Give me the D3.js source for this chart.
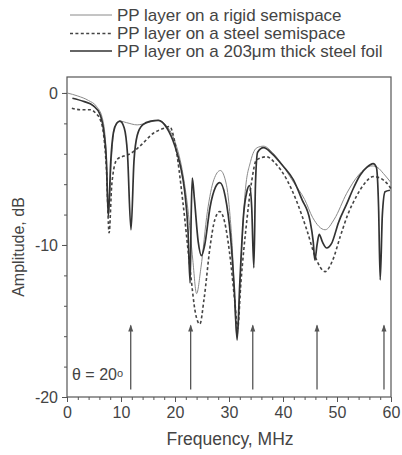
<!DOCTYPE html>
<html>
<head>
<meta charset="utf-8">
<script src="https://cdn.jsdelivr.net/npm/d3@7"></script>
<style>
  body { margin: 0; background: #fff; }
  text { font-family: "Liberation Sans", Arial, sans-serif; fill: #444; }
</style>
</head>
<body>
<div id="chart"></div>
<script>
// Data (frequency in MHz, amplitude in dB)
var rigidX = [0, 2, 4, 5.5, 6.5, 7.2, 7.7, 8.2, 8.8, 9.8, 11, 13, 15, 16.9, 18.5, 20, 21.5, 22.5, 23.3, 24.0, 24.8, 26, 27.2, 28.4, 29.5, 30.5, 31.5, 32.3, 33, 34, 35.2, 36.4, 38, 40, 42, 44, 45.5, 47.8, 49.5, 51.8, 54, 56.5, 57.5, 58.6, 60];
var rigidY = [0, -0.2, -0.5, -0.9, -1.6, -3.5, -8.0, -4.5, -2.3, -1.85, -1.95, -2.1, -1.95, -1.8, -2.2, -3.2, -5.4, -8.0, -11.0, -13.2, -11.5, -7.8, -5.7, -5.1, -6.0, -9.5, -16.0, -10.5, -6.5, -4.5, -3.6, -3.5, -3.9, -4.8, -5.9, -7.0, -8.2, -9.0, -8.3, -6.6, -5.4, -4.8, -4.9, -5.3, -5.9];

var steelX = [0.9, 2.5, 4.3, 5.5, 6.1, 6.8, 7.3, 7.8, 8.3, 9.2, 10.5, 11.7, 13.5, 16, 18.1, 19, 20, 21.5, 22.8, 23.8, 24.6, 25.4, 26.5, 27.4, 28.3, 29.2, 30.1, 31.1, 31.6, 32.2, 33.3, 34.2, 35.1, 37, 38.5, 40.7, 42.5, 44.4, 46, 47.8, 49.2, 50.6, 52, 53.6, 55, 56.7, 58, 59.5, 60];
var steelY = [-1.0, -1.1, -1.1, -1.4, -1.7, -2.8, -5.0, -9.2, -6.0, -4.4, -4.15, -4.0, -3.5, -2.65, -2.3, -2.2, -3.3, -7.3, -11.6, -14.5, -15.2, -13.5, -10.1, -8.3, -7.8, -8.5, -10.5, -13.8, -15.5, -12.5, -8.4, -5.8, -4.4, -4.2, -4.6, -5.7, -7.1, -9.0, -10.8, -11.75, -11.0, -9.45, -8.0, -6.8, -6.0, -5.5, -5.6, -6.05, -6.3];

var foilX = [1.0, 3, 4.9, 6.1, 6.8, 7.3, 7.65, 8.1, 8.6, 9.2, 9.8, 10.6, 11.2, 11.85, 12.4, 13.0, 14, 15.5, 16.9, 18.5, 20, 21, 21.8, 22.4, 22.8, 23.0, 23.2, 23.6, 24.3, 24.9, 25.5, 26.5, 27.5, 28.3, 29.3, 30.3, 31.0, 31.5, 32.0, 32.7, 33.3, 33.8, 34.2, 34.6, 34.9, 35.3, 36.4, 38, 40, 41.9, 43.5, 45, 45.6, 45.9, 46.3, 46.7, 47.3, 48.1, 49, 50.3, 51.8, 53, 54.3, 55.5, 56.7, 57.3, 57.7, 58.0, 58.4, 58.9, 59.8];
var foilY = [-0.35, -0.55, -0.85, -1.4, -2.5, -4.5, -8.1, -4.5, -2.6, -2.0, -1.85, -2.3, -4.0, -9.0, -4.5, -2.8, -2.1, -1.85, -1.8, -2.3, -3.5, -4.8, -6.5, -9.0, -12.5, -8.0, -5.6, -7.0, -9.8, -10.7, -10.0, -7.5, -6.2, -5.9, -6.8, -9.5, -13.0, -16.25, -12.5, -8.0, -6.5, -6.1, -7.5, -11.5, -6.0, -3.9, -3.6, -4.0, -4.8, -5.7, -7.0, -8.4, -9.8, -11.0, -10.0, -9.3, -9.8, -10.2, -9.9, -8.5, -7.3, -6.3, -5.4, -4.9, -4.65, -4.9, -7.5, -12.3, -8.0, -6.5, -6.4];

// Foil resonance arrows
var arrowX = [11.8, 22.9, 34.4, 46.3, 58.7];
var arrowFrom = -19.5;
var arrowTo = -15.3;

var xTicks = [0, 10, 20, 30, 40, 50, 60];
var yTicks = [0, -10, -20];

var legendLabels = ["PP layer on a rigid semispace", "PP layer on a steel semispace", "PP layer on a 203\u03bcm thick steel foil"];

// Size of the page and the plot box
var w = 402;
var h = 455;
var plotLeft = 67, plotRight = 391, plotTop = 77, plotBottom = 397;

var svg = d3.select("#chart")
    .append("svg")
    .attr("width", w)
    .attr("height", h);

var xScale = d3.scaleLinear().domain([0, 60]).range([plotLeft, plotRight]);
var yScale = d3.scaleLinear().domain([-20, 1.05]).range([plotBottom, plotTop]);

// Styles for the three series
var styles = [
    { stroke: "#8a8a8a", width: 1, dash: null },
    { stroke: "#444", width: 1.6, dash: "3,2.4" },
    { stroke: "#333", width: 1.7, dash: null }
];

function zip(xs, ys) {
    return xs.map(function (x, i) { return [x, ys[i]]; });
}
var series = [zip(rigidX, rigidY), zip(steelX, steelY), zip(foilX, foilY)];

// Axes: minor ticks first, then major with labels
svg.append("g")
    .attr("transform", "translate(0," + plotBottom + ")")
    .call(d3.axisBottom(xScale).tickValues(d3.range(0, 61, 2)).tickSize(3).tickFormat(""))
    .call(function (g) { g.select(".domain").remove(); g.selectAll("line").attr("stroke", "#555"); });

svg.append("g")
    .attr("transform", "translate(0," + plotBottom + ")")
    .call(d3.axisBottom(xScale).tickValues(xTicks).tickSize(5).tickPadding(5).tickFormat(function (d) { return String(d); }))
    .call(function (g) {
        g.select(".domain").remove();
        g.selectAll("line").attr("stroke", "#555");
        g.selectAll("text").style("font-size", "16px").attr("fill", "#444");
    });

svg.append("g")
    .attr("transform", "translate(" + plotLeft + ",0)")
    .call(d3.axisLeft(yScale).tickValues(d3.range(-20, 1, 2)).tickSize(3).tickFormat(""))
    .call(function (g) { g.select(".domain").remove(); g.selectAll("line").attr("stroke", "#555"); });

svg.append("g")
    .attr("transform", "translate(" + plotLeft + ",0)")
    .call(d3.axisLeft(yScale).tickValues(yTicks).tickSize(5).tickPadding(4).tickFormat(function (d) { return String(d); }))
    .call(function (g) {
        g.select(".domain").remove();
        g.selectAll("line").attr("stroke", "#555");
        g.selectAll("text").style("font-size", "16px").attr("fill", "#444");
    });

// Plot frame
svg.append("rect")
    .attr("x", plotLeft)
    .attr("y", plotTop)
    .attr("width", plotRight - plotLeft)
    .attr("height", plotBottom - plotTop)
    .style("fill", "none")
    .style("stroke", "#555")
    .style("stroke-width", 1.2);

// Curves
var line = d3.line()
    .x(function (d) { return xScale(d[0]); })
    .y(function (d) { return yScale(d[1]); })
    .curve(d3.curveMonotoneX);

series.forEach(function (s, i) {
    svg.append("path")
        .datum(s)
        .attr("d", line)
        .style("fill", "none")
        .style("stroke", styles[i].stroke)
        .style("stroke-width", styles[i].width)
        .style("stroke-dasharray", styles[i].dash);
});

// Arrows pointing up at the foil resonances
svg.append("g")
    .selectAll("line")
    .data(arrowX)
    .enter()
    .append("line")
    .attr("x1", function (d) { return xScale(d); })
    .attr("x2", function (d) { return xScale(d); })
    .attr("y1", yScale(arrowFrom))
    .attr("y2", yScale(arrowTo))
    .style("stroke", "#555")
    .style("stroke-width", 1.3);

svg.append("g")
    .selectAll("path")
    .data(arrowX)
    .enter()
    .append("path")
    .attr("d", function (d) {
        var x = xScale(d), y = yScale(arrowTo);
        return "M" + x + "," + (y - 1) + " L" + (x + 2.5) + "," + (y + 6) + " L" + (x - 2.5) + "," + (y + 6) + " Z";
    })
    .style("fill", "#555");

// Angle label
var theta = svg.append("text")
    .attr("x", 72)
    .attr("y", 380)
    .style("font-size", "16px")
    .text("\u03b8 = 20");
theta.append("tspan")
    .attr("dy", -3)
    .style("font-size", "11px")
    .text("o");

// Axis titles
svg.append("text")
    .attr("x", 230)
    .attr("y", 445)
    .attr("text-anchor", "middle")
    .style("font-size", "17.5px")
    .text("Frequency, MHz");

svg.append("text")
    .attr("transform", "translate(24,247) rotate(-90)")
    .attr("text-anchor", "middle")
    .style("font-size", "16px")
    .text("Amplitude, dB");

// Legend
var legendY = [15, 33.5, 51];
legendLabels.forEach(function (lab, i) {
    svg.append("line")
        .attr("x1", 70)
        .attr("x2", 112)
        .attr("y1", legendY[i])
        .attr("y2", legendY[i])
        .style("stroke", styles[i].stroke)
        .style("stroke-width", styles[i].width)
        .style("stroke-dasharray", styles[i].dash);
    svg.append("text")
        .attr("x", 117)
        .attr("y", legendY[i] + 5.5)
        .style("font-size", "17px")
        .text(lab);
});
</script>
</body>
</html>
